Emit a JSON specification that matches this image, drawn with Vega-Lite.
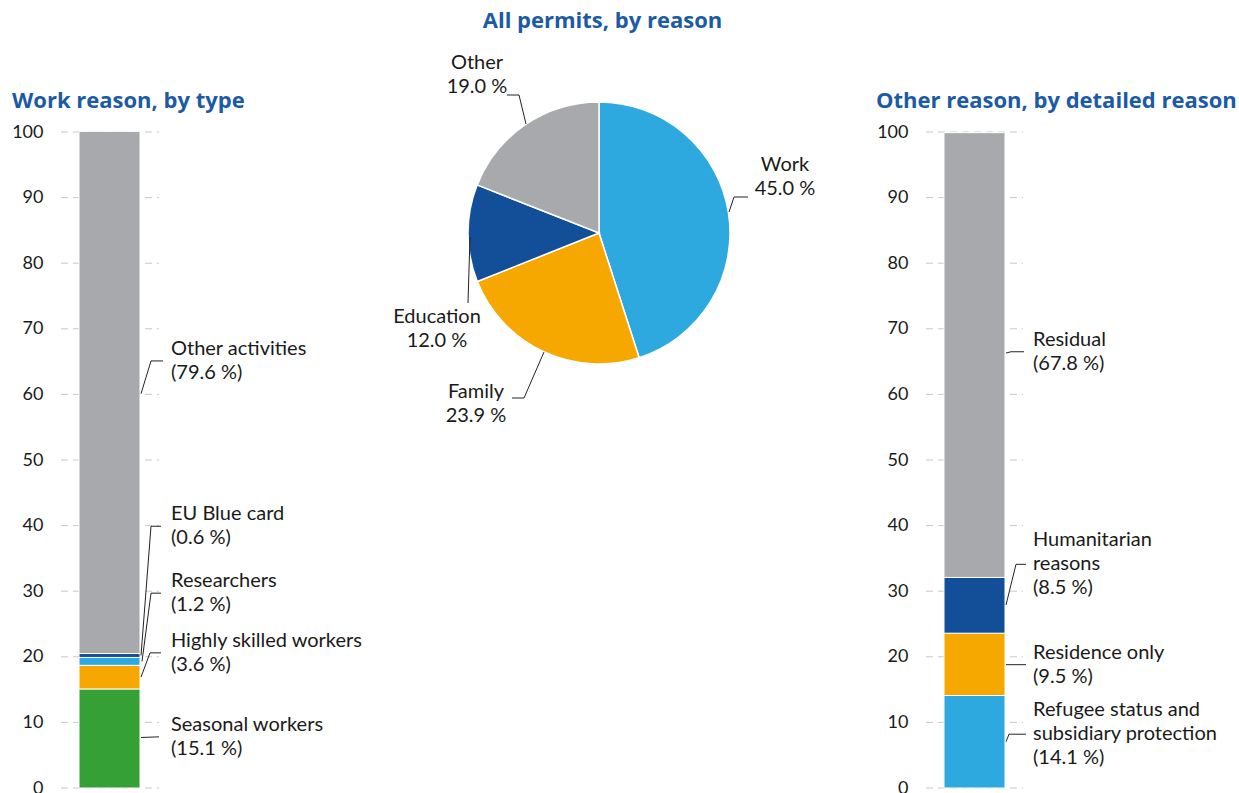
{
  "$schema": "https://vega.github.io/schema/vega-lite/v6.json",
  "autosize": {"type": "pad"},
  "padding": {"left": 11, "top": 9, "right": 0, "bottom": 0},
  "background": "white",
  "spacing": 20,
  "bounds": "flush",
  "resolve": {"scale": {"color": "independent"}},
  "config": {
    "view": {"stroke": null},
    "font": "Lato",
    "title": {"font": "Open Sans", "fontSize": 22, "fontWeight": "bold", "color": "#1b5aa5", "baseline": "alphabetic"},
    "text": {"font": "Lato"}
  },
  "datasets": {
    "grid": [{"v": 0}, {"v": 10}, {"v": 20}, {"v": 30}, {"v": 40}, {"v": 50}, {"v": 60}, {"v": 70}, {"v": 80}, {"v": 90}, {"v": 100}],
    "work": [
      {"type": "Seasonal workers", "value": 15.1, "order": 1},
      {"type": "Highly skilled workers", "value": 3.6, "order": 2},
      {"type": "Researchers", "value": 1.2, "order": 3},
      {"type": "EU Blue card", "value": 0.6, "order": 4},
      {"type": "Other activities", "value": 79.6, "order": 5}
    ],
    "workLeaders": [
      {"id": "Seasonal workers", "i": 1, "x": 80, "y": 7.7},
      {"id": "Seasonal workers", "i": 2, "x": 98, "y": 7.8},
      {"id": "Highly skilled workers", "i": 1, "x": 80, "y": 16.9},
      {"id": "Highly skilled workers", "i": 2, "x": 89, "y": 20.6},
      {"id": "Highly skilled workers", "i": 3, "x": 100, "y": 20.6},
      {"id": "Researchers", "i": 1, "x": 81, "y": 19.3},
      {"id": "Researchers", "i": 2, "x": 90, "y": 29.7},
      {"id": "Researchers", "i": 3, "x": 100, "y": 29.7},
      {"id": "EU Blue card", "i": 1, "x": 80, "y": 20.2},
      {"id": "EU Blue card", "i": 2, "x": 90, "y": 39.9},
      {"id": "EU Blue card", "i": 3, "x": 100, "y": 39.9},
      {"id": "Other activities", "i": 1, "x": 80, "y": 60.1},
      {"id": "Other activities", "i": 2, "x": 90, "y": 65.1},
      {"id": "Other activities", "i": 3, "x": 102, "y": 65.1}
    ],
    "workLabels": [
      {"text": "Seasonal workers\n(15.1 %)", "ty": 9.6},
      {"text": "Highly skilled workers\n(3.6 %)", "ty": 22.4},
      {"text": "Researchers\n(1.2 %)", "ty": 31.5},
      {"text": "EU Blue card\n(0.6 %)", "ty": 41.7},
      {"text": "Other activities\n(79.6 %)", "ty": 66.9}
    ],
    "pie": [
      {"reason": "Work", "value": 45.0, "order": 1},
      {"reason": "Family", "value": 23.9, "order": 2},
      {"reason": "Education", "value": 12.0, "order": 3},
      {"reason": "Other", "value": 19.0, "order": 4}
    ],
    "pieLeaders": [
      {"id": "Work", "i": 1, "x": 130, "y": 21},
      {"id": "Work", "i": 2, "x": 135, "y": 36},
      {"id": "Work", "i": 3, "x": 149, "y": 36},
      {"id": "Other", "i": 1, "x": -73, "y": 109},
      {"id": "Other", "i": 2, "x": -80, "y": 138},
      {"id": "Other", "i": 3, "x": -92, "y": 138},
      {"id": "Education", "i": 1, "x": -129, "y": -4},
      {"id": "Education", "i": 2, "x": -131, "y": -70},
      {"id": "Family", "i": 1, "x": -55, "y": -119},
      {"id": "Family", "i": 2, "x": -75, "y": -165},
      {"id": "Family", "i": 3, "x": -87, "y": -165}
    ],
    "pieLabels": [
      {"text": "Work\n45.0 %", "x": 186, "y": 68},
      {"text": "Other\n19.0 %", "x": -122, "y": 170},
      {"text": "Education\n12.0 %", "x": -162, "y": -84},
      {"text": "Family\n23.9 %", "x": -123, "y": -159}
    ],
    "other": [
      {"type": "Refugee status and subsidiary protection", "value": 14.1, "order": 1},
      {"type": "Residence only", "value": 9.5, "order": 2},
      {"type": "Humanitarian reasons", "value": 8.5, "order": 3},
      {"type": "Residual", "value": 67.8, "order": 4}
    ],
    "otherLeaders": [
      {"id": "Refugee", "i": 1, "x": 80, "y": 7.05},
      {"id": "Refugee", "i": 2, "x": 83, "y": 8.2},
      {"id": "Refugee", "i": 3, "x": 100, "y": 8.2},
      {"id": "Residence", "i": 1, "x": 80, "y": 18.8},
      {"id": "Residence", "i": 2, "x": 100, "y": 18.8},
      {"id": "Humanitarian", "i": 1, "x": 80, "y": 27.9},
      {"id": "Humanitarian", "i": 2, "x": 90, "y": 34.1},
      {"id": "Humanitarian", "i": 3, "x": 100, "y": 34.1},
      {"id": "Residual", "i": 1, "x": 80, "y": 66.3},
      {"id": "Residual", "i": 2, "x": 85, "y": 66.5},
      {"id": "Residual", "i": 3, "x": 98, "y": 66.5}
    ],
    "otherLabels": [
      {"text": "Refugee status and\nsubsidiary protection\n(14.1 %)", "ty": 11.9},
      {"text": "Residence only\n(9.5 %)", "ty": 20.6},
      {"text": "Humanitarian\nreasons\n(8.5 %)", "ty": 37.8},
      {"text": "Residual\n(67.8 %)", "ty": 68.3}
    ]
  },
  "hconcat": [
    {
      "width": 320,
      "height": 656,
      "title": {"text": "Work reason, by type", "anchor": "start", "frame": "group", "dx": -49, "offset": 10},
      "layer": [
        {
          "data": {"name": "grid"},
          "mark": {"type": "rule", "strokeDash": [7, 5], "color": "#c8c8c8", "strokeWidth": 1},
          "encoding": {
            "y": {"field": "v", "type": "quantitative", "scale": {"domain": [0, 100], "nice": false},
              "axis": {"values": [0, 10, 20, 30, 40, 50, 60, 70, 80, 90, 100], "title": null, "domain": false, "ticks": false, "grid": false, "labelPadding": 18, "labelFontSize": 18, "labelColor": "#1a1a1a", "labelFont": "Lato"}},
            "x": {"datum": 0, "type": "quantitative", "scale": {"domain": [0, 320], "nice": false, "zero": false}, "axis": null},
            "x2": {"datum": 98}
          }
        },
        {
          "data": {"name": "work"},
          "transform": [{"stack": "value", "groupby": [], "sort": [{"field": "order", "order": "ascending"}], "as": ["y0", "y1"]}],
          "mark": {"type": "bar", "stroke": "white", "strokeWidth": 1},
          "encoding": {
            "y": {"field": "y0", "type": "quantitative", "scale": {"domain": [0, 100], "nice": false}},
            "y2": {"field": "y1"},
            "x": {"datum": 18, "type": "quantitative", "scale": {"domain": [0, 320], "nice": false, "zero": false}, "axis": null},
            "x2": {"datum": 79},
            "color": {"field": "type", "type": "nominal", "legend": null,
              "scale": {"domain": ["Seasonal workers", "Highly skilled workers", "Researchers", "EU Blue card", "Other activities"],
                "range": ["#35a035", "#f7a800", "#2ea9e0", "#124f98", "#a8a9ad"]}}
          }
        },
        {
          "data": {"name": "workLeaders"},
          "mark": {"type": "line", "color": "#222222", "strokeWidth": 1},
          "encoding": {
            "x": {"field": "x", "type": "quantitative", "scale": {"domain": [0, 320], "nice": false, "zero": false}, "axis": null},
            "y": {"field": "y", "type": "quantitative", "scale": {"domain": [0, 100], "nice": false}},
            "detail": {"field": "id"},
            "order": {"field": "i"}
          }
        },
        {
          "data": {"name": "workLabels"},
          "mark": {"type": "text", "align": "left", "baseline": "middle", "fontSize": 20, "lineHeight": 24, "lineBreak": "\n", "color": "#1a1a1a"},
          "encoding": {
            "x": {"datum": 110, "type": "quantitative", "scale": {"domain": [0, 320], "nice": false, "zero": false}, "axis": null},
            "y": {"field": "ty", "type": "quantitative", "scale": {"domain": [0, 100], "nice": false}},
            "text": {"field": "text"}
          }
        }
      ]
    },
    {
      "width": 505,
      "height": 656,
      "title": {"text": "All permits, by reason", "anchor": "middle", "frame": "group", "dx": -51, "offset": 20},
      "layer": [
        {
          "data": {"name": "pie"},
          "transform": [{"stack": "value", "groupby": [], "sort": [{"field": "order", "order": "ascending"}], "as": ["t0", "t1"]}],
          "mark": {"type": "arc", "outerRadius": 131, "stroke": "white", "strokeWidth": 1.5},
          "encoding": {
            "theta": {"field": "t0", "type": "quantitative", "scale": {"domain": [0, 99.9]}},
            "theta2": {"field": "t1"},
            "x": {"datum": 0, "type": "quantitative", "scale": {"domain": [-198, 307], "nice": false, "zero": false}, "axis": null},
            "y": {"datum": 0, "type": "quantitative", "scale": {"domain": [-555, 101], "nice": false, "zero": false}, "axis": null},
            "color": {"field": "reason", "type": "nominal", "legend": null,
              "scale": {"domain": ["Work", "Family", "Education", "Other"], "range": ["#2ea9e0", "#f7a800", "#124f98", "#a8a9ad"]}}
          }
        },
        {
          "data": {"name": "pieLeaders"},
          "mark": {"type": "line", "color": "#222222", "strokeWidth": 1},
          "encoding": {
            "x": {"field": "x", "type": "quantitative", "scale": {"domain": [-198, 307], "nice": false, "zero": false}, "axis": null},
            "y": {"field": "y", "type": "quantitative", "scale": {"domain": [-555, 101], "nice": false, "zero": false}, "axis": null},
            "detail": {"field": "id"},
            "order": {"field": "i"}
          }
        },
        {
          "data": {"name": "pieLabels"},
          "mark": {"type": "text", "align": "center", "baseline": "middle", "fontSize": 20, "lineHeight": 24, "lineBreak": "\n", "color": "#1a1a1a"},
          "encoding": {
            "x": {"field": "x", "type": "quantitative", "scale": {"domain": [-198, 307], "nice": false, "zero": false}, "axis": null},
            "y": {"field": "y", "type": "quantitative", "scale": {"domain": [-555, 101], "nice": false, "zero": false}, "axis": null},
            "text": {"field": "text"}
          }
        }
      ]
    },
    {
      "width": 314,
      "height": 656,
      "title": {"text": "Other reason, by detailed reason", "anchor": "start", "frame": "group", "dx": -50, "offset": 10},
      "layer": [
        {
          "data": {"name": "grid"},
          "mark": {"type": "rule", "strokeDash": [7, 5], "color": "#c8c8c8", "strokeWidth": 1},
          "encoding": {
            "y": {"field": "v", "type": "quantitative", "scale": {"domain": [0, 100], "nice": false},
              "axis": {"values": [0, 10, 20, 30, 40, 50, 60, 70, 80, 90, 100], "title": null, "domain": false, "ticks": false, "grid": false, "labelPadding": 18, "labelFontSize": 18, "labelColor": "#1a1a1a", "labelFont": "Lato"}},
            "x": {"datum": 0, "type": "quantitative", "scale": {"domain": [0, 314], "nice": false, "zero": false}, "axis": null},
            "x2": {"datum": 97}
          }
        },
        {
          "data": {"name": "other"},
          "transform": [{"stack": "value", "groupby": [], "sort": [{"field": "order", "order": "ascending"}], "as": ["y0", "y1"]}],
          "mark": {"type": "bar", "stroke": "white", "strokeWidth": 1},
          "encoding": {
            "y": {"field": "y0", "type": "quantitative", "scale": {"domain": [0, 100], "nice": false}},
            "y2": {"field": "y1"},
            "x": {"datum": 18, "type": "quantitative", "scale": {"domain": [0, 314], "nice": false, "zero": false}, "axis": null},
            "x2": {"datum": 79},
            "color": {"field": "type", "type": "nominal", "legend": null,
              "scale": {"domain": ["Refugee status and subsidiary protection", "Residence only", "Humanitarian reasons", "Residual"],
                "range": ["#2ea9e0", "#f7a800", "#124f98", "#a8a9ad"]}}
          }
        },
        {
          "data": {"name": "otherLeaders"},
          "mark": {"type": "line", "color": "#222222", "strokeWidth": 1},
          "encoding": {
            "x": {"field": "x", "type": "quantitative", "scale": {"domain": [0, 314], "nice": false, "zero": false}, "axis": null},
            "y": {"field": "y", "type": "quantitative", "scale": {"domain": [0, 100], "nice": false}},
            "detail": {"field": "id"},
            "order": {"field": "i"}
          }
        },
        {
          "data": {"name": "otherLabels"},
          "mark": {"type": "text", "align": "left", "baseline": "middle", "fontSize": 20, "lineHeight": 24, "lineBreak": "\n", "color": "#1a1a1a"},
          "encoding": {
            "x": {"datum": 107, "type": "quantitative", "scale": {"domain": [0, 314], "nice": false, "zero": false}, "axis": null},
            "y": {"field": "ty", "type": "quantitative", "scale": {"domain": [0, 100], "nice": false}},
            "text": {"field": "text"}
          }
        }
      ]
    }
  ]
}
